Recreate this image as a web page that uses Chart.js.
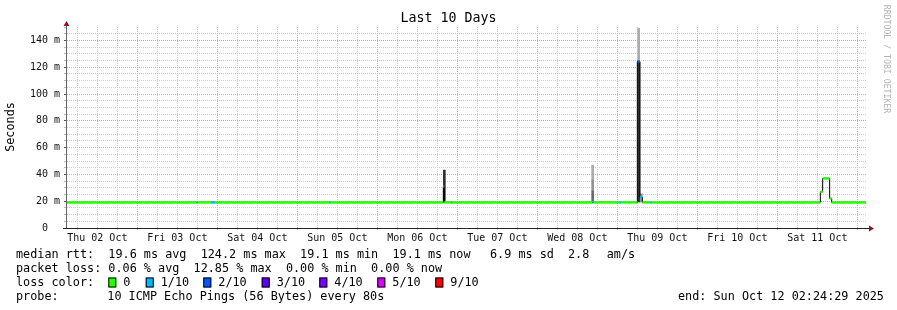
<!DOCTYPE html>
<html>
<head>
<meta charset="utf-8">
<script src="https://cdn.jsdelivr.net/npm/chart.js@4"></script>
<style>
  body { margin: 0; background: #fff; }
  canvas { display: block; }
</style>
</head>
<body>
<canvas id="smokeChart" width="897" height="310"></canvas>
<script>
// values, x in hours since Thu 02 Oct 00:00

const dayLabels = ['Thu 02 Oct', 'Fri 03 Oct', 'Sat 04 Oct', 'Sun 05 Oct', 'Mon 06 Oct',
                   'Tue 07 Oct', 'Wed 08 Oct', 'Thu 09 Oct', 'Fri 10 Oct', 'Sat 11 Oct'];
const yTickValues = [0, 20, 40, 60, 80, 100, 120, 140];
const yTickLabels = ['0  ', '20 m', '40 m', '60 m', '80 m', '100 m', '120 m', '140 m'];

// median rtt (ms), as runs: each run lasts until the next start
const segStart  = [2.9, 41.8, 42.1, 46.1, 47.3, 81.7, 82.0, 115.8, 116.1, 118.2, 118.5,
                   160.5, 160.8, 168.8, 169.1, 174.0, 174.8, 175.5, 177.9, 178.2,
                   228.9, 229.6, 231.7, 232.3];
const segMedian = [19.1, 19.1, 19.1, 19.1, 19.1, 19.1, 19.1, 31, 19.1, 19.1, 19.1,
                   19.1, 19.1, 19.1, 19.1, 124.2, 23, 19.1, 19.1, 19.1,
                   27, 37, 22, 19.1];
const segLoss   = [0, 1, 0, 1, 0, 1, 0, 1, 0, 1, 0,
                   1, 0, 1, 0, 2, 1, 0, 1, 0,
                   0, 0, 0, 0];
const dataEnd = 242.6;

// smoke (spread of the single pings), rank 0 = outermost
const smokeTimes = [116.1, 160.6, 160.6, 160.6, 174.4, 174.4, 175.2];
const smokeLow   = [19.4, 35.8, 27.6, 19.4, 124.2, 19.4, 19.4];
const smokeHigh  = [43.2, 46.9, 35.8, 27.6, 149.0, 124.2, 25.5];
const smokeRank  = [3, 0, 1, 2, 0, 3, 1];

const lossLabels = ['0', '1/10', '2/10', '3/10', '4/10', '5/10', '9/10'];
const lossCounts = [0, 1, 2, 3, 4, 5, 9];

const rttLine   = 'median rtt:  19.6 ms avg  124.2 ms max  19.1 ms min  19.1 ms now';
const rttExtra  = ['6.9 ms sd', '2.8', 'am/s'];
const lossLine  = 'packet loss: 0.06 % avg  12.85 % max  0.00 % min  0.00 % now';
const probeText = '10 ICMP Echo Pings (56 Bytes) every 80s';
const endText   = 'end: Sun Oct 12 02:24:29 2025';


const mono = 'DejaVu Sans Mono';
const lossColor = { 0: '#26ff00', 1: '#00b8ff', 2: '#0059ff', 3: '#5e00ff', 4: '#7e00ff', 5: '#dd00ff', 9: '#ff0000' };
const smokeShades = ['#acacac', '#939393', '#6a6a6a', '#303030'];
const gridGrey = '#cccccc';
const gridRed = '#eb9a9a';
const arrowRed = '#8b1a1a';


// black stepped median line
const stepPoints = segStart.map((t, i) => ({ x: t, y: segMedian[i] }));
stepPoints.push({ x: dataEnd, y: segMedian[segMedian.length - 1] });

// colored horizontal pieces, broken with nulls
const colorPoints = [];
segStart.forEach((t, i) => {
    const end = i + 1 < segStart.length ? segStart[i + 1] : dataEnd;
    colorPoints.push({ x: t, y: segMedian[i] });
    colorPoints.push({ x: end, y: segMedian[i] });
    colorPoints.push({ x: end, y: null });
});

const smokePoints = smokeTimes.map((t, i) => ({ x: t, y: [smokeLow[i], smokeHigh[i]] }));


const text = function (ctx, str, x, y, size, align, color) {
    ctx.font = size + 'px "' + mono + '"';
    ctx.textAlign = align || 'left';
    ctx.textBaseline = 'middle';
    ctx.fillStyle = color || '#000';
    ctx.fillText(str, x, y);
};

const isMajorX = v => Math.abs(v % 24) < 0.01;
const isMajorY = v => Math.abs(v % 20) < 0.01;

const decorations = {
    id: 'decorations',
    beforeDraw(chart) {
        const ctx = chart.ctx;
        ctx.save();
        ctx.fillStyle = '#fff';
        ctx.fillRect(0, 0, chart.width, chart.height);
        ctx.restore();
    },
    afterDatasetsDraw(chart) {
        const ctx = chart.ctx;
        const a = chart.chartArea;
        ctx.save();
        // axes
        ctx.lineWidth = 1;
        ctx.strokeStyle = '#666';
        ctx.beginPath();
        ctx.moveTo(a.left - 0.5, a.bottom);
        ctx.lineTo(a.left - 0.5, a.top - 3);
        ctx.stroke();
        ctx.strokeStyle = '#222';
        ctx.beginPath();
        ctx.moveTo(a.left - 4, a.bottom + 0.5);
        ctx.lineTo(a.right + 3, a.bottom + 0.5);
        ctx.stroke();
        // arrows
        ctx.fillStyle = arrowRed;
        ctx.beginPath();
        ctx.moveTo(a.left - 0.5, a.top - 6);
        ctx.lineTo(a.left - 3.5, a.top - 1);
        ctx.lineTo(a.left + 2.5, a.top - 1);
        ctx.closePath();
        ctx.fill();
        ctx.beginPath();
        ctx.moveTo(a.right + 7, a.bottom + 0.5);
        ctx.lineTo(a.right + 2, a.bottom - 2.5);
        ctx.lineTo(a.right + 2, a.bottom + 3.5);
        ctx.closePath();
        ctx.fill();
        ctx.restore();
    },
    afterDraw(chart) {
        const ctx = chart.ctx;
        ctx.save();

        text(ctx, 'Last 10 Days', 448.5, 19, 13.3, 'center');

        // y title
        ctx.save();
        ctx.translate(11, 127);
        ctx.rotate(-Math.PI / 2);
        text(ctx, 'Seconds', 0, 0, 11.8, 'center');
        ctx.restore();

        // watermark
        ctx.save();
        ctx.translate(886, 59);
        ctx.rotate(Math.PI / 2);
        text(ctx, 'RRDTOOL / TOBI OETIKER', 0, 0, 8.2, 'center', '#b4b4b4');
        ctx.restore();

        // legend
        text(ctx, rttLine, 16, 254.5, 11.8);
        text(ctx, rttExtra[0], 490, 254.5, 11.8);
        text(ctx, rttExtra[1], 568, 254.5, 11.8);
        text(ctx, rttExtra[2], 606.7, 254.5, 11.8);
        text(ctx, lossLine, 16, 268.5, 11.8);
        text(ctx, 'loss color:', 16, 282.5, 11.8);

        const boxX = [108.3, 145.7, 203.3, 261.7, 319.3, 377.3, 435.3];
        lossLabels.forEach((lab, i) => {
            ctx.fillStyle = lossColor[lossCounts[i]];
            ctx.fillRect(boxX[i], 277.5, 8, 10);
            ctx.strokeStyle = '#000';
            ctx.lineWidth = 1;
            ctx.strokeRect(boxX[i] + 0.5, 277.5 + 0.5, 7, 9);
            text(ctx, lab, boxX[i] + 15, 282.5, 11.8);
        });

        text(ctx, 'probe:', 16, 296.5, 11.8);
        text(ctx, probeText, 107.3, 296.5, 11.8);
        text(ctx, endText, 678, 296.5, 11.8);

        ctx.restore();
    }
};


const ctx = document.getElementById('smokeChart');

new Chart(ctx, {
    type: 'bar',
    data: {
        datasets: [
            {
                type: 'line',
                label: 'loss',
                data: colorPoints,
                borderWidth: 2.5,
                borderCapStyle: 'butt',
                pointRadius: 0,
                spanGaps: false,
                fill: false,
                order: 0,
                segment: {
                    borderColor: c => lossColor[segLoss[Math.floor(c.p0DataIndex / 3)]]
                }
            },
            {
                type: 'line',
                label: 'median',
                data: stepPoints,
                stepped: true,
                borderColor: '#000',
                borderWidth: 1,
                pointRadius: 0,
                fill: false,
                order: 1
            },
            {
                label: 'smoke',
                data: smokePoints,
                backgroundColor: c => smokeShades[smokeRank[c.dataIndex]],
                barThickness: 2,
                order: 2
            }
        ]
    },
    options: {
        responsive: false,
        animation: false,
        devicePixelRatio: 1,
        layout: { padding: { left: 0, top: 27, right: 30, bottom: 0 } },
        plugins: {
            legend: { display: false },
            tooltip: { enabled: false },
            title: { display: false }
        },
        scales: {
            x: {
                type: 'linear',
                min: 2.9,
                max: 242.9,
                offset: false,
                afterBuildTicks: scale => {
                    const ticks = [];
                    for (let h = 6; h <= 240; h += 6) ticks.push({ value: h });
                    scale.ticks = ticks;
                },
                afterFit: scale => {
                    scale.height = 82;
                    scale.paddingLeft = 0;
                    scale.paddingRight = 0;
                },
                ticks: {
                    autoSkip: false,
                    maxRotation: 0,
                    padding: 2,
                    color: '#111',
                    font: { family: mono, size: 10 },
                    callback: v => v % 24 === 12 ? dayLabels[(v - 12) / 24] : ''
                },
                grid: {
                    offset: false,
                    lineWidth: 1,
                    tickLength: 2,
                    color: c => c.tick && isMajorX(c.tick.value) ? gridRed : gridGrey,
                    tickColor: c => c.tick && isMajorX(c.tick.value) ? gridRed : gridGrey
                },
                border: { display: false, dash: [1, 1] }
            },
            y: {
                type: 'linear',
                min: 0,
                max: 150,
                afterBuildTicks: scale => {
                    const ticks = [];
                    for (let v = 0; v <= 150; v += 5) ticks.push({ value: v });
                    scale.ticks = ticks;
                },
                afterFit: scale => {
                    scale.width = 67;
                    scale.paddingTop = 0;
                    scale.paddingBottom = 0;
                },
                ticks: {
                    autoSkip: false,
                    padding: 4,
                    color: '#111',
                    font: { family: mono, size: 10 },
                    callback: v => {
                        const i = yTickValues.indexOf(v);
                        return i >= 0 ? yTickLabels[i] : '';
                    }
                },
                grid: {
                    lineWidth: 1,
                    tickLength: 3,
                    color: c => {
                        const v = c.tick ? c.tick.value : 0;
                        if (v === 150) return 'rgba(0,0,0,0)';
                        return isMajorY(v) ? gridRed : gridGrey;
                    },
                    tickColor: c => c.tick && isMajorY(c.tick.value) ? '#555' : '#bbb'
                },
                border: { display: false, dash: [1, 1] }
            }
        }
    },
    plugins: [decorations]
});
</script>
</body>
</html>
